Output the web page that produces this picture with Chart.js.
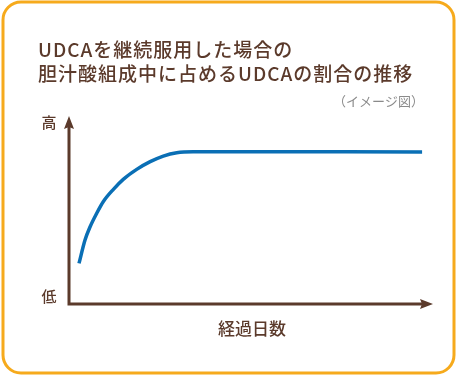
<!DOCTYPE html>
<html lang="ja">
<head>
<meta charset="utf-8">
<title>UDCAの割合の推移</title>
<script src="https://cdn.jsdelivr.net/npm/chart.js@4/dist/chart.umd.min.js"></script>
<style>
  html, body { margin: 0; padding: 0; background: #ffffff; }
  #wrap { width: 460px; height: 376px; }
</style>
</head>
<body>
<div id="wrap"><canvas id="chart" width="460" height="376"></canvas></div>
<script>
// Elapsed days (relative scale, 0–100) and the share of UDCA in bile acid (relative, 0–100)
const days      = [2.75, 4.4, 5.8, 7.6, 9.4, 12.2, 14.9, 18.6, 22.3, 25.9, 29.6, 34.1, 97.0];
const udcaShare = [21.6, 34.0, 41.1, 48.2, 54.4, 61.0, 66.3, 71.6, 75.7, 78.7, 80.5, 81.0, 80.9];

const titleLines = ['UDCAを継続服用した場合の', '胆汁酸組成中に占めるUDCAの割合の推移'];
const noteText   = '（イメージ図）';
const yHighLabel = '高';
const yLowLabel  = '低';
const xAxisLabel = '経過日数';

const BROWN  = '#5b3a2b';
const ORANGE = '#f6aa1c';
const BLUE   = '#0a6fb5';
const JP     = '"Noto Sans CJK JP", "Noto Sans", sans-serif';

// Frame, heading, arrows and axis words around the plot
const decor = {
  id: 'decor',
  beforeDraw(chart) {
    const ctx = chart.ctx;
    ctx.save();
    ctx.strokeStyle = ORANGE;
    ctx.lineWidth = 3;
    ctx.beginPath();
    ctx.roundRect(3, 2, 451, 371, 18);
    ctx.stroke();

    ctx.fillStyle = BROWN;
    ctx.textBaseline = 'middle';
    ctx.textAlign = 'left';
    ctx.font = '500 19px ' + JP;
    ctx.letterSpacing = '1px';
    ctx.fillText(titleLines[0], 38, 50);
    ctx.fillText(titleLines[1], 38, 74);

    ctx.letterSpacing = '0px';
    ctx.fillStyle = '#8a8a8a';
    ctx.textAlign = 'right';
    ctx.font = '400 13px ' + JP;
    ctx.fillText(noteText, 424, 101);
    ctx.restore();
  },
  afterDraw(chart) {
    const ctx = chart.ctx;
    const xs = chart.scales.x, ys = chart.scales.y;
    const x0 = xs.getPixelForValue(0), x1 = xs.getPixelForValue(100);
    const y0 = ys.getPixelForValue(0), y1 = ys.getPixelForValue(100);
    ctx.save();
    ctx.strokeStyle = BROWN;
    ctx.fillStyle = BROWN;
    ctx.lineWidth = 3;
    ctx.lineCap = 'butt';
    ctx.beginPath();
    ctx.moveTo(x0, y1 + 8);
    ctx.lineTo(x0, y0);
    ctx.lineTo(x1 - 8, y0);
    ctx.stroke();
    // arrow heads
    ctx.beginPath();
    ctx.moveTo(x0, y1);
    ctx.lineTo(x0 + 5, y1 + 13);
    ctx.lineTo(x0, y1 + 11);
    ctx.lineTo(x0 - 5, y1 + 13);
    ctx.closePath();
    ctx.fill();
    ctx.beginPath();
    ctx.moveTo(x1, y0);
    ctx.lineTo(x1 - 13, y0 - 5);
    ctx.lineTo(x1 - 11, y0);
    ctx.lineTo(x1 - 13, y0 + 5);
    ctx.closePath();
    ctx.fill();

    ctx.textBaseline = 'middle';
    ctx.textAlign = 'center';
    ctx.font = '500 15px ' + JP;
    ctx.fillText(yHighLabel, 49, y1 + 6);
    ctx.fillText(yLowLabel, 49, y0 - 8);
    ctx.font = '500 17px ' + JP;
    ctx.fillText(xAxisLabel, 252, y0 + 25);
    ctx.restore();
  }
};

new Chart(document.getElementById('chart'), {
  type: 'line',
  data: {
    datasets: [{
      data: days.map((d, i) => ({ x: d, y: udcaShare[i] })),
      borderColor: BLUE,
      borderWidth: 3.5,
      pointRadius: 0,
      fill: false,
      cubicInterpolationMode: 'monotone',
      borderCapStyle: 'butt',
      clip: false
    }]
  },
  options: {
    responsive: false,
    animation: false,
    devicePixelRatio: 1,
    layout: { padding: { left: 69, right: 27, top: 116, bottom: 72 } },
    plugins: { legend: { display: false }, tooltip: { enabled: false } },
    scales: {
      x: { type: 'linear', min: 0, max: 100, display: false },
      y: { type: 'linear', min: 0, max: 100, display: false }
    }
  },
  plugins: [decor]
});
</script>
</body>
</html>
